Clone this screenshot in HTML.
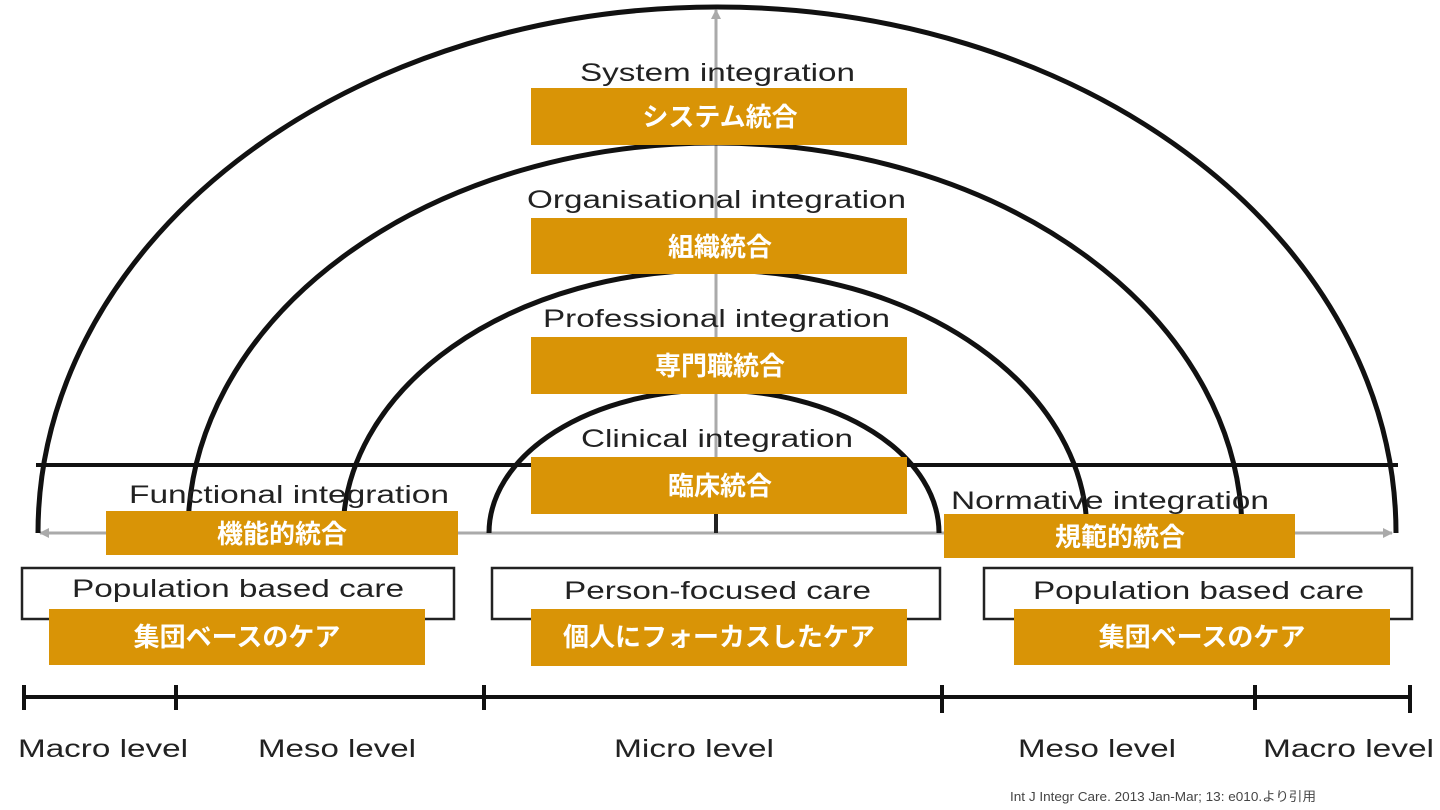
<!DOCTYPE html>
<html><head><meta charset="utf-8"><style>
html,body{margin:0;padding:0;background:#fff;width:1440px;height:810px;overflow:hidden}
</style></head><body>
<svg width="1440" height="810" viewBox="0 0 1440 810" xmlns="http://www.w3.org/2000/svg">
<defs>
<marker id="ah" markerWidth="10" markerHeight="10" refX="9" refY="5" orient="auto" markerUnits="userSpaceOnUse"><path d="M0,0 L10,5 L0,10 z" fill="#aaa"/></marker>
</defs>
<g fill="none" stroke="#aaa" stroke-width="3">
<line x1="716" y1="533" x2="716" y2="10" marker-end="url(#ah)"/>
<line x1="716" y1="533" x2="1392" y2="533" marker-end="url(#ah)"/>
<line x1="716" y1="533" x2="40" y2="533" marker-end="url(#ah)"/>
</g>
<g fill="none" stroke="#111" stroke-width="5">
<path d="M38,533 A679,526 0 0 1 1396,533"/>
<path d="M188,533 A527,390 0 0 1 1242,533"/>
<path d="M343,533 A372,263 0 0 1 1087,533"/>
<path d="M489,533 A225,143 0 0 1 939,533"/>
</g>
<line x1="36" y1="465" x2="1398" y2="465" stroke="#111" stroke-width="4"/>
<line x1="716" y1="465" x2="716" y2="533" stroke="#222" stroke-width="4"/>
<g font-family="Liberation Sans, Arial, sans-serif" font-size="25" fill="#222" lengthAdjust="spacingAndGlyphs">
<text x="580" y="81" textLength="275" lengthAdjust="spacingAndGlyphs">System integration</text>
<text x="527" y="208" textLength="379" lengthAdjust="spacingAndGlyphs">Organisational integration</text>
<text x="543" y="327" textLength="347" lengthAdjust="spacingAndGlyphs">Professional integration</text>
<text x="581" y="447" textLength="272" lengthAdjust="spacingAndGlyphs">Clinical integration</text>
<text x="129" y="503" textLength="320" lengthAdjust="spacingAndGlyphs">Functional integration</text>
<text x="951" y="509" textLength="318" lengthAdjust="spacingAndGlyphs">Normative integration</text>
</g>
<g fill="#fff" stroke="#222" stroke-width="2.5">
<rect x="22" y="568" width="432" height="51"/>
<rect x="492" y="568" width="448" height="51"/>
<rect x="984" y="568" width="428" height="51"/>
</g>
<g font-family="Liberation Sans, Arial, sans-serif" font-size="25" fill="#222">
<text x="72" y="597" textLength="332" lengthAdjust="spacingAndGlyphs">Population based care</text>
<text x="564" y="599" textLength="307" lengthAdjust="spacingAndGlyphs">Person-focused care</text>
<text x="1033" y="599" textLength="331" lengthAdjust="spacingAndGlyphs">Population based care</text>
</g>
<g fill="#d99406">
<rect x="531" y="88" width="376" height="57"/>
<rect x="531" y="218" width="376" height="56"/>
<rect x="531" y="337" width="376" height="57"/>
<rect x="531" y="457" width="376" height="57"/>
<rect x="106" y="511" width="352" height="44"/>
<rect x="944" y="514" width="351" height="44"/>
<rect x="49" y="609" width="376" height="56"/>
<rect x="531" y="609" width="376" height="57"/>
<rect x="1014" y="609" width="376" height="56"/>
</g>
<g font-family="Liberation Sans, 'Noto Sans CJK JP', sans-serif" font-size="26" font-weight="bold" fill="#fff" text-anchor="middle">
<text x="720" y="126">システム統合</text>
<text x="720" y="256">組織統合</text>
<text x="720" y="375">専門職統合</text>
<text x="720" y="495">臨床統合</text>
<text x="282" y="543">機能的統合</text>
<text x="1120" y="546">規範的統合</text>
<text x="237" y="646">集団ベースのケア</text>
<text x="719" y="646">個人にフォーカスしたケア</text>
<text x="1202" y="646">集団ベースのケア</text>
</g>
<g stroke="#111" stroke-width="4">
<line x1="24" y1="697" x2="1410" y2="697"/>
<line x1="24" y1="685" x2="24" y2="710"/>
<line x1="176" y1="685" x2="176" y2="710"/>
<line x1="484" y1="685" x2="484" y2="710"/>
<line x1="942" y1="685" x2="942" y2="713"/>
<line x1="1255" y1="685" x2="1255" y2="710"/>
<line x1="1410" y1="685" x2="1410" y2="713"/>
</g>
<g font-family="Liberation Sans, Arial, sans-serif" font-size="25" fill="#222">
<text x="18" y="757" textLength="170" lengthAdjust="spacingAndGlyphs">Macro level</text>
<text x="258" y="757" textLength="158" lengthAdjust="spacingAndGlyphs">Meso level</text>
<text x="614" y="757" textLength="160" lengthAdjust="spacingAndGlyphs">Micro level</text>
<text x="1018" y="757" textLength="158" lengthAdjust="spacingAndGlyphs">Meso level</text>
<text x="1263" y="757" textLength="171" lengthAdjust="spacingAndGlyphs">Macro level</text>
</g>
<text x="1010" y="801" textLength="306" lengthAdjust="spacingAndGlyphs" font-family="Liberation Sans, 'Noto Sans CJK JP', sans-serif" font-size="13" fill="#444">Int J Integr Care. 2013 Jan-Mar; 13: e010.より引用</text>
</svg>
</body></html>
